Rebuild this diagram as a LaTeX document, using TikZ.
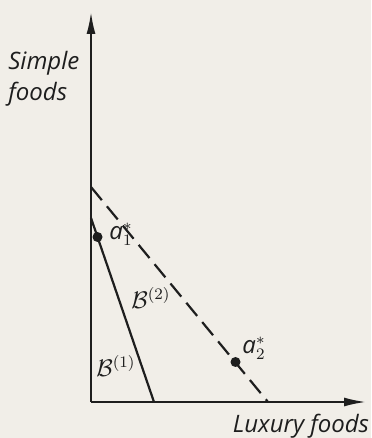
\documentclass[tikz,border=0pt]{standalone}
\usepackage{amsmath}
\usepackage{amssymb}
\usepackage{fontspec}
\setmainfont{Open Sans}
\usetikzlibrary{arrows.meta}
\definecolor{paper}{HTML}{F1EEE8}
\definecolor{ink}{HTML}{1E1E1E}

\begin{document}
\begin{tikzpicture}[x=0.5pt,y=0.5pt,
  axis/.style={line width=1pt,ink,-{Latex[length=11pt,width=4.5pt]}},
  budget/.style={line width=1.1pt,ink},
  lbl/.style={inner sep=0pt,text=ink,font=\fontsize{12}{15.5}\selectfont\itshape},
  optimum/.style={circle,fill=ink,inner sep=0pt,minimum size=5pt}]
\fill[paper] (0,0) rectangle (371,438);
\useasboundingbox (0,0) rectangle (371,438);

\coordinate (O) at (91,36);
\coordinate (Ytop) at (91,426);
\coordinate (Xend) at (366,36);
\coordinate (B1top) at (91,220);
\coordinate (B1bot) at (154,36);
\coordinate (B2top) at (91,251);
\coordinate (B2bot) at (268,36);

\node[optimum] (A1) at (97.5,201) {};
\node[optimum] (A2) at (235.5,76) {};

\node[lbl,align=left,anchor=west] (Simple) at (8,359) {Simple\\foods};
\node[lbl] (Luxury) at (301,12) {Luxury foods};
\node[lbl] (A1lbl) at (121,204) {a$_1^*$};
\node[lbl] (A2lbl) at (254,90) {a$_2^*$};
\node[lbl] (B2lbl) at (151,140) {$\mathcal{B}^{(2)}$};
\node[lbl] (B1lbl) at (116,72) {$\mathcal{B}^{(1)}$};

\draw[axis] (O) -- (Ytop);
\draw[axis] (O) -- (Xend);
\draw[budget] (B1top) -- (B1bot);
\draw[budget,dash pattern=on 8.5pt off 4pt] (B2top) -- (B2bot);
\end{tikzpicture}
\end{document}
